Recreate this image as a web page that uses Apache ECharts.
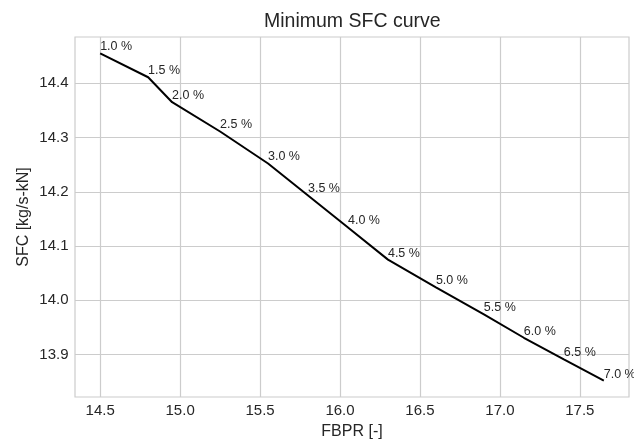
<!DOCTYPE html>
<html>
<head>
<meta charset="utf-8">
<script src="https://cdn.jsdelivr.net/npm/echarts@6/dist/echarts.min.js"></script>
<style>
  html, body { margin: 0; padding: 0; background: #ffffff; }
  #chart { width: 634px; height: 441px; }
</style>
</head>
<body>
<div id="chart"></div>
<script>
// Fan bypass pressure ratio vs. specific fuel consumption, one point per bleed fraction
const fbpr = [14.5, 14.8, 14.95, 15.25, 15.55, 15.8, 16.05, 16.3, 16.6, 16.9, 17.15, 17.4, 17.65];
const sfc = [14.455, 14.411, 14.365, 14.311, 14.252, 14.193, 14.134, 14.075, 14.024, 13.974, 13.931, 13.891, 13.852];
const pctLabels = ['1.0 %', '1.5 %', '2.0 %', '2.5 %', '3.0 %', '3.5 %', '4.0 %', '4.5 %', '5.0 %', '5.5 %', '6.0 %', '6.5 %', '7.0 %'];
const xTicks = [14.5, 15.0, 15.5, 16.0, 16.5, 17.0, 17.5];
const yTicks = [13.9, 14.0, 14.1, 14.2, 14.3, 14.4];

// 5 % padding around the data range on both axes
function padded(vals) {
  const lo = Math.min(...vals), hi = Math.max(...vals);
  const m = (hi - lo) * 0.05;
  return [lo - m, hi + m];
}
const [xMin, xMax] = padded(fbpr);
const [yMin, yMax] = padded(sfc);

const textColor = '#262626';
const gridColor = '#cccccc';
const fontFamily = '"Liberation Sans", Arial, sans-serif';

const chart = echarts.init(document.getElementById('chart'), null, { renderer: 'canvas' });
chart.setOption({
  backgroundColor: '#ffffff',
  animation: false,
  textStyle: { fontFamily: fontFamily },
  title: {
    text: 'Minimum SFC curve',
    left: 264, top: 12, padding: 0,
    textStyle: { fontSize: 19.5, fontWeight: 'normal', color: textColor, fontFamily: fontFamily }
  },
  grid: { left: 75, right: 5, top: 37, bottom: 44, containLabel: false,
          outerBoundsMode: 'none',
          show: true, borderColor: gridColor, borderWidth: 1.2 },
  xAxis: {
    type: 'value', min: xMin, max: xMax,
    name: 'FBPR [-]', nameLocation: 'middle', nameGap: 27, nameMoveOverlap: false,
    nameTextStyle: { fontSize: 16, color: textColor, fontFamily: fontFamily },
    axisLine: { show: false },
    axisTick: { show: false, customValues: xTicks },
    axisLabel: { customValues: xTicks, fontSize: 15, color: textColor, margin: 6,
                 fontFamily: fontFamily, formatter: v => v.toFixed(1) },
    splitLine: { show: true, lineStyle: { color: gridColor, width: 1.2 } }
  },
  yAxis: {
    type: 'value', min: yMin, max: yMax,
    name: 'SFC [kg/s-kN]', nameLocation: 'middle', nameGap: 43, nameMoveOverlap: false,
    nameTextStyle: { fontSize: 16, color: textColor, fontFamily: fontFamily },
    axisLine: { show: false },
    axisTick: { show: false, customValues: yTicks },
    axisLabel: { customValues: yTicks, fontSize: 15, color: textColor, margin: 6.5,
                 fontFamily: fontFamily, formatter: v => v.toFixed(1) },
    splitLine: { show: true, lineStyle: { color: gridColor, width: 1.2 } }
  },
  series: [{
    type: 'line',
    data: fbpr.map((x, i) => [x, sfc[i]]),
    symbol: 'circle', symbolSize: 0.1,
    itemStyle: { color: '#000000' },
    lineStyle: { color: '#000000', width: 2 },
    clip: false,
    label: {
      show: true,
      position: [0, 0],
      align: 'left', verticalAlign: 'bottom',
      offset: [0, 0],
      fontSize: 12.5, color: textColor, fontFamily: fontFamily,
      formatter: p => pctLabels[p.dataIndex]
    }
  }]
});
</script>
</body>
</html>
